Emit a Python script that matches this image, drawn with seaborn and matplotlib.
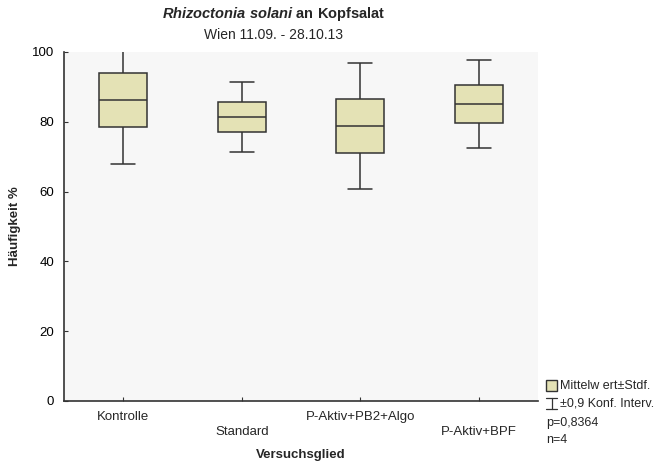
import numpy as np
import pandas as pd
import matplotlib
matplotlib.use("Agg")
import matplotlib.pyplot as plt
from matplotlib.patches import Rectangle
from matplotlib.lines import Line2D
import seaborn as sns

# Versuchsglieder and statistics (Mittelwert, Standardabweichung, 0,9-Konfidenzintervall)
groups = ["Kontrolle", "Standard", "P-Aktiv+PB2+Algo", "P-Aktiv+BPF"]
means = [86.3, 81.4, 78.8, 85.1]
sds = [7.8, 4.3, 7.75, 5.4]
ci_half = [18.3, 10.1, 18.1, 12.7]
y_ticks = [0, 20, 40, 60, 80, 100]

sns.set_theme(style="white")
plt.rcParams['font.family'] = ['Liberation Sans', 'DejaVu Sans']
plt.rcParams['mathtext.fontset'] = 'custom'
plt.rcParams['mathtext.rm'] = 'Liberation Sans'
plt.rcParams['mathtext.it'] = 'Liberation Sans:italic:bold'
plt.rcParams['mathtext.bf'] = 'Liberation Sans:bold'

FS = 9.5

# Five points per group so the box spans mean±SD and whiskers span the CI
rows = []
for g, m, s, c in zip(groups, means, sds, ci_half):
    for v in (m - c, m - s, m, m + s, m + c):
        rows.append({"Versuchsglied": g, "Wert": v})
df = pd.DataFrame(rows)

fig = plt.figure(figsize=(6.66, 4.68), dpi=100)
ax = fig.add_axes([0.0961, 0.1432, 0.7117, 0.7457])
ax.set_facecolor("#f7f7f7")

sns.boxplot(data=df, x="Versuchsglied", y="Wert", order=groups, ax=ax,
            whis=np.inf, width=0.405, color="#e4e2b5", saturation=1,
            linecolor="#333333", linewidth=1.1, showfliers=False)
for ln in ax.lines:
    ln.set_color("#333333")

ax.set_ylim(0, 100)
ax.set_xlim(-0.5, 3.5)
ax.set_yticks(y_ticks)
ax.set_yticklabels([str(t) for t in y_ticks], fontsize=FS)
ax.set_xticks(range(len(groups)))
ax.set_xticklabels([])
for i, g in enumerate(groups):
    ax.text(i, -0.046 if i % 2 == 0 else -0.090, g, transform=ax.get_xaxis_transform(),
            ha="center", va="center", fontsize=FS)
ax.tick_params(axis="both", direction="in", length=3, width=0.8, colors="#333333",
               labelcolor="black", left=True, bottom=True)
ax.tick_params(axis="y", pad=7)

for side in ("top", "right"):
    ax.spines[side].set_visible(False)
for side in ("left", "bottom"):
    ax.spines[side].set_color("#333333")
    ax.spines[side].set_linewidth(1.2)

ax.set_xlabel("Versuchsglied", fontsize=FS, fontweight="bold", labelpad=31)
ax.set_ylabel("Häufigkeit %", fontsize=FS, fontweight="bold", labelpad=8)

fig.text(0.411, 1 - 14 / 468, r"$\it{Rhizoctonia\ solani}$" + r"$\bf{\ an\ Kopfsalat}$",
         ha="center", va="center", fontsize=10.5)
fig.text(0.411, 1 - 35 / 468, "Wien 11.09. - 28.10.13", ha="center", va="center", fontsize=10)

# Legend block at the lower right
fig.patches.append(Rectangle((546 / 666, 1 - 391 / 468), 11 / 666, 11 / 468,
                             transform=fig.transFigure, facecolor="#e4e2b5",
                             edgecolor="#333333", linewidth=1.0))
fig.text(560 / 666, 1 - 386 / 468, "Mittelw ert±Stdf.", ha="left", va="center", fontsize=9)
xc = 551.5 / 666
for y in (1 - 398 / 468, 1 - 409 / 468):
    fig.lines.append(Line2D([xc - 0.008, xc + 0.008], [y, y], transform=fig.transFigure,
                            color="#333333", linewidth=0.9))
fig.lines.append(Line2D([xc, xc], [1 - 398 / 468, 1 - 409 / 468], transform=fig.transFigure,
                        color="#333333", linewidth=0.9))
fig.text(560 / 666, 1 - 404 / 468, "±0,9 Konf. Interv.", ha="left", va="center", fontsize=9)
fig.text(546 / 666, 1 - 423 / 468, "p=0,8364", ha="left", va="center", fontsize=9)
fig.text(546 / 666, 1 - 440 / 468, "n=4", ha="left", va="center", fontsize=9)

fig.savefig("out.png", dpi=100)
